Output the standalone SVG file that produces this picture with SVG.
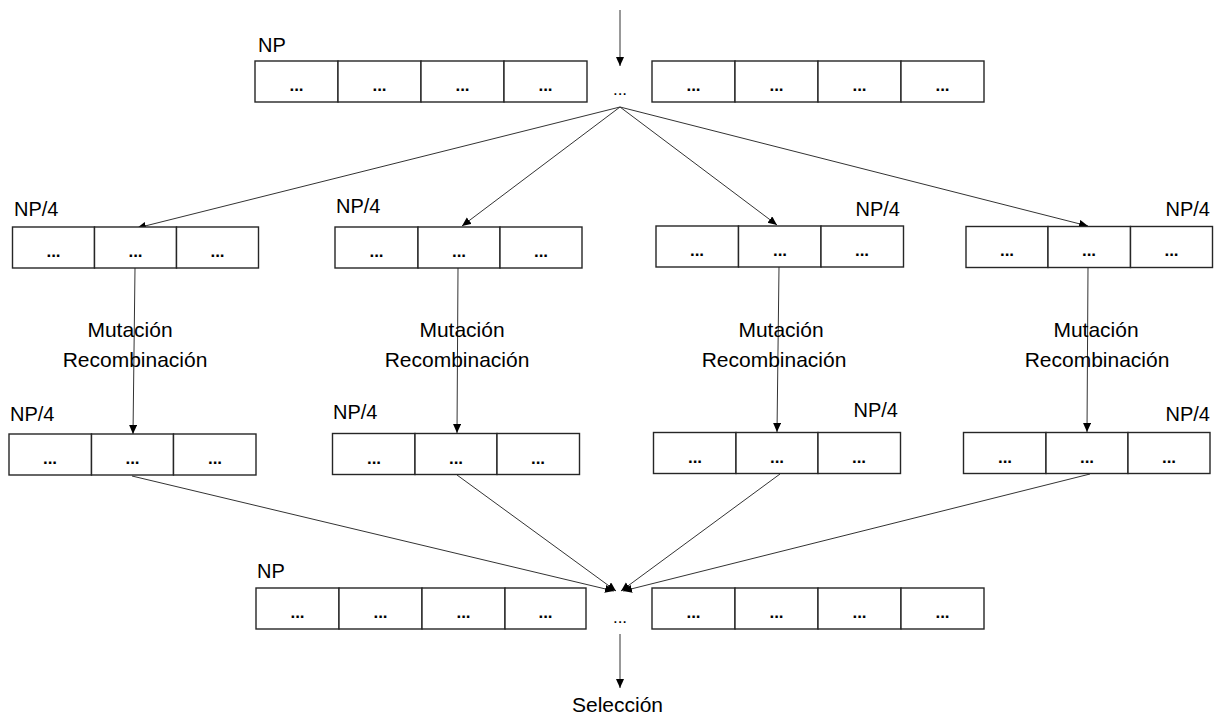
<svg xmlns="http://www.w3.org/2000/svg" width="1224" height="722" viewBox="0 0 1224 722">
<style>
  .cell{fill:#fff;stroke:#262626;stroke-width:1.4}
  .d{font-family:"Liberation Sans",Arial,sans-serif;font-size:17px;font-weight:bold;fill:#000;text-anchor:middle}
  .lbl{font-family:"Liberation Sans",Arial,sans-serif;font-size:20px;fill:#000}
  .big{font-size:21px}
  .r{text-anchor:end}
  .m{text-anchor:middle}
  .c{stroke:#333;stroke-width:1;fill:none;marker-end:url(#ah)}
  .e{font-family:"Liberation Sans",Arial,sans-serif;font-size:17px;fill:#000;text-anchor:middle}
</style>
<defs>
  <marker id="ah" markerWidth="10" markerHeight="10" refX="9" refY="4" orient="auto" markerUnits="userSpaceOnUse">
    <path d="M0,0 L9,4 L0,8 Z" fill="#000"/>
  </marker>
</defs>
<rect width="1224" height="722" fill="#fff"/>

<g id="connectors">
  <line class="c" x1="620" y1="10" x2="620" y2="66"/>
  <line class="c" x1="620" y1="107" x2="137" y2="228"/>
  <line class="c" x1="620" y1="107" x2="462" y2="226"/>
  <line class="c" x1="620" y1="107" x2="777" y2="225"/>
  <line class="c" x1="620" y1="107" x2="1088" y2="226"/>
  <line class="c" x1="135" y1="268" x2="133" y2="434"/>
  <line class="c" x1="458" y1="268" x2="457" y2="433"/>
  <line class="c" x1="779" y1="267" x2="777" y2="432"/>
  <line class="c" x1="1088" y1="267" x2="1087" y2="432"/>
  <line class="c" x1="132" y1="476" x2="614" y2="591"/>
  <line class="c" x1="457" y1="475" x2="616" y2="591"/>
  <line class="c" x1="780" y1="474" x2="621" y2="591"/>
  <line class="c" x1="1090" y1="474" x2="623" y2="591"/>
  <line class="c" x1="620" y1="634" x2="620" y2="688"/>
</g>

<g id="top-np">
  <text class="lbl" x="258" y="52">NP</text>
  <rect class="cell" x="255" y="61" width="83" height="41"/>
  <rect class="cell" x="338" y="61" width="83" height="41"/>
  <rect class="cell" x="421" y="61" width="83" height="41"/>
  <rect class="cell" x="504" y="61" width="83" height="41"/>
  <text class="d" x="296.5" y="91">...</text>
  <text class="d" x="379.5" y="91">...</text>
  <text class="d" x="462.5" y="91">...</text>
  <text class="d" x="545.5" y="91">...</text>
  <text class="e" x="620" y="95">...</text>
  <rect class="cell" x="652" y="61" width="83" height="41"/>
  <rect class="cell" x="735" y="61" width="83" height="41"/>
  <rect class="cell" x="818" y="61" width="83" height="41"/>
  <rect class="cell" x="901" y="61" width="83" height="41"/>
  <text class="d" x="693.5" y="91">...</text>
  <text class="d" x="776.5" y="91">...</text>
  <text class="d" x="859.5" y="91">...</text>
  <text class="d" x="942.5" y="91">...</text>
</g>

<g id="sub1-in">
  <text class="lbl" x="14" y="216">NP/4</text>
  <rect class="cell" x="12.5" y="227" width="82" height="41"/>
  <rect class="cell" x="94.5" y="227" width="82" height="41"/>
  <rect class="cell" x="176.5" y="227" width="82" height="41"/>
  <text class="d" x="53.5" y="257">...</text>
  <text class="d" x="135.5" y="257">...</text>
  <text class="d" x="217.5" y="257">...</text>
</g>
<g id="sub2-in">
  <text class="lbl" x="336" y="213">NP/4</text>
  <rect class="cell" x="335" y="227" width="83" height="41"/>
  <rect class="cell" x="418" y="227" width="82" height="41"/>
  <rect class="cell" x="500" y="227" width="82" height="41"/>
  <text class="d" x="376.5" y="257">...</text>
  <text class="d" x="459" y="257">...</text>
  <text class="d" x="541" y="257">...</text>
</g>
<g id="sub3-in">
  <text class="lbl r" x="900" y="216">NP/4</text>
  <rect class="cell" x="656" y="226" width="82.5" height="41"/>
  <rect class="cell" x="738.5" y="226" width="82.5" height="41"/>
  <rect class="cell" x="821" y="226" width="82.5" height="41"/>
  <text class="d" x="697" y="256">...</text>
  <text class="d" x="780" y="256">...</text>
  <text class="d" x="862" y="256">...</text>
</g>
<g id="sub4-in">
  <text class="lbl r" x="1210" y="216">NP/4</text>
  <rect class="cell" x="966" y="226.5" width="82" height="41"/>
  <rect class="cell" x="1048" y="226.5" width="82.5" height="41"/>
  <rect class="cell" x="1130.5" y="226.5" width="82" height="41"/>
  <text class="d" x="1007" y="256">...</text>
  <text class="d" x="1089" y="256">...</text>
  <text class="d" x="1171.5" y="256">...</text>
</g>

<g id="ops">
  <text class="lbl big m" x="130" y="337">Mutación</text>
  <text class="lbl big m" x="135" y="367">Recombinación</text>
  <text class="lbl big m" x="462" y="337">Mutación</text>
  <text class="lbl big m" x="457" y="367">Recombinación</text>
  <text class="lbl big m" x="781" y="337">Mutación</text>
  <text class="lbl big m" x="774" y="367">Recombinación</text>
  <text class="lbl big m" x="1096" y="337">Mutación</text>
  <text class="lbl big m" x="1097" y="367">Recombinación</text>
</g>

<g id="sub1-out">
  <text class="lbl" x="10" y="421">NP/4</text>
  <rect class="cell" x="9" y="434" width="82.5" height="41"/>
  <rect class="cell" x="91.5" y="434" width="82" height="41"/>
  <rect class="cell" x="173.5" y="434" width="82.5" height="41"/>
  <text class="d" x="50" y="464">...</text>
  <text class="d" x="132.5" y="464">...</text>
  <text class="d" x="215" y="464">...</text>
</g>
<g id="sub2-out">
  <text class="lbl" x="333" y="419">NP/4</text>
  <rect class="cell" x="332.5" y="433.5" width="82.5" height="41"/>
  <rect class="cell" x="415" y="433.5" width="82" height="41"/>
  <rect class="cell" x="497" y="433.5" width="82.5" height="41"/>
  <text class="d" x="374" y="464">...</text>
  <text class="d" x="456" y="464">...</text>
  <text class="d" x="538" y="464">...</text>
</g>
<g id="sub3-out">
  <text class="lbl r" x="898" y="417">NP/4</text>
  <rect class="cell" x="653.5" y="432.5" width="82.5" height="41"/>
  <rect class="cell" x="736" y="432.5" width="82" height="41"/>
  <rect class="cell" x="818" y="432.5" width="82.5" height="41"/>
  <text class="d" x="695" y="463">...</text>
  <text class="d" x="777" y="463">...</text>
  <text class="d" x="859" y="463">...</text>
</g>
<g id="sub4-out">
  <text class="lbl r" x="1210" y="421">NP/4</text>
  <rect class="cell" x="963.5" y="432.5" width="82.5" height="41"/>
  <rect class="cell" x="1046" y="432.5" width="82" height="41"/>
  <rect class="cell" x="1128" y="432.5" width="82" height="41"/>
  <text class="d" x="1005" y="463">...</text>
  <text class="d" x="1087" y="463">...</text>
  <text class="d" x="1169" y="463">...</text>
</g>

<g id="bottom-np">
  <text class="lbl" x="257" y="578">NP</text>
  <rect class="cell" x="256" y="588" width="83" height="41"/>
  <rect class="cell" x="339" y="588" width="83" height="41"/>
  <rect class="cell" x="422" y="588" width="83" height="41"/>
  <rect class="cell" x="505" y="588" width="81" height="41"/>
  <text class="d" x="297.5" y="618">...</text>
  <text class="d" x="380.5" y="618">...</text>
  <text class="d" x="463.5" y="618">...</text>
  <text class="d" x="545.5" y="618">...</text>
  <text class="e" x="620" y="623">...</text>
  <rect class="cell" x="652" y="588" width="83" height="41"/>
  <rect class="cell" x="735" y="588" width="83" height="41"/>
  <rect class="cell" x="818" y="588" width="83" height="41"/>
  <rect class="cell" x="901" y="588" width="83" height="41"/>
  <text class="d" x="693.5" y="618">...</text>
  <text class="d" x="776.5" y="618">...</text>
  <text class="d" x="859.5" y="618">...</text>
  <text class="d" x="942.5" y="618">...</text>
</g>

<g id="seleccion">
  <text class="lbl big m" x="617.5" y="712">Selección</text>
</g>
</svg>
